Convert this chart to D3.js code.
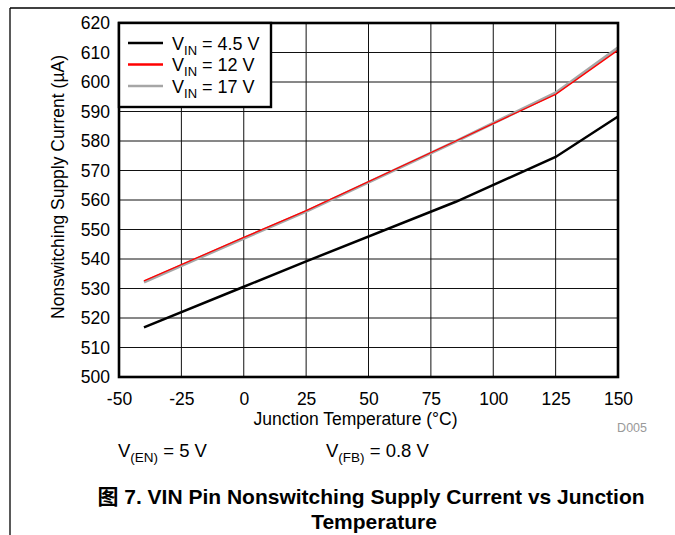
<!DOCTYPE html>
<html>
<head>
<meta charset="utf-8">
<script src="https://cdn.jsdelivr.net/npm/d3@7"></script>
<style>
  html, body { margin: 0; padding: 0; background: #fff; }
  svg { display: block; }
  text { font-family: "Liberation Sans", Arial, "Noto Sans CJK SC", sans-serif; }
</style>
</head>
<body>
<svg id="chart" width="675" height="535"></svg>
<script>
// ---- data ----
const temps = [-40, 0, 25, 85, 125, 150];
const vin45 = [516.8, 530.6, 539.2, 559.4, 574.6, 588.3];
const vin12 = [532.6, 547.3, 556.4, 580.0, 595.8, 610.8];
const vin17 = [532.2, 547.0, 556.1, 579.9, 596.3, 611.6];
const xTicks = [-50, -25, 0, 25, 50, 75, 100, 125, 150];
const yTicks = [500, 510, 520, 530, 540, 550, 560, 570, 580, 590, 600, 610, 620];
const seriesNames = ["4.5 V", "12 V", "17 V"];
const seriesColors = ["#000000", "#ff0000", "#a6a6a6"];

const svg = d3.select("#chart");
const L = 119, R = 618, T = 23, B = 377;
const x = d3.scaleLinear().domain([-50, 150]).range([L, R]);
const y = d3.scaleLinear().domain([500, 620]).range([B, T]);

// outer frame (top and left)
svg.append("line").attr("x1", 10).attr("x2", 675).attr("y1", 8).attr("y2", 8)
  .attr("stroke", "#000").attr("stroke-width", 1.3);
svg.append("line").attr("x1", 10).attr("x2", 10).attr("y1", 8).attr("y2", 535)
  .attr("stroke", "#000").attr("stroke-width", 1.3);

// grid
const grid = svg.append("g");
xTicks.forEach(t => grid.append("line").attr("x1", x(t)).attr("x2", x(t)).attr("y1", T).attr("y2", B)
  .attr("stroke", "#111").attr("stroke-width", 1));
yTicks.forEach(t => grid.append("line").attr("x1", L).attr("x2", R).attr("y1", y(t)).attr("y2", y(t))
  .attr("stroke", "#111").attr("stroke-width", 1));

// axes (labels only)
const xAxis = svg.append("g").attr("transform", `translate(0,${B})`)
  .call(d3.axisBottom(x).tickValues(xTicks).tickSize(0).tickPadding(16).tickFormat(d => String(d)));
xAxis.select(".domain").remove();
xAxis.selectAll("text").attr("font-size", 17.5).attr("fill", "#000")
  .attr("font-family", "Liberation Sans, Arial, sans-serif");

const yAxis = svg.append("g").attr("transform", `translate(${L},0)`)
  .call(d3.axisLeft(y).tickValues(yTicks).tickSize(0).tickPadding(9).tickFormat(d => String(d)));
yAxis.select(".domain").remove();
yAxis.selectAll("text").attr("font-size", 17.5).attr("fill", "#000")
  .attr("font-family", "Liberation Sans, Arial, sans-serif");

// lines
const line = d3.line().x(d => x(d[0])).y(d => y(d[1]));
const zip = arr => temps.map((t, i) => [t, arr[i]]);
svg.append("path").datum(zip(vin45)).attr("d", line).attr("fill", "none")
  .attr("stroke", seriesColors[0]).attr("stroke-width", 2.5);
svg.append("path").datum(zip(vin17)).attr("d", line).attr("fill", "none")
  .attr("stroke", seriesColors[2]).attr("stroke-width", 3);
svg.append("path").datum(zip(vin12)).attr("d", line).attr("fill", "none")
  .attr("stroke", seriesColors[1]).attr("stroke-width", 1.3);

// plot frame
svg.append("rect").attr("x", L).attr("y", T).attr("width", R - L).attr("height", B - T)
  .attr("fill", "none").attr("stroke", "#000").attr("stroke-width", 2.6);

// legend
const lg = svg.append("g");
lg.append("rect").attr("x", 119).attr("y", 23).attr("width", 152).attr("height", 84)
  .attr("fill", "#fff").attr("stroke", "#000").attr("stroke-width", 2.4);
seriesNames.forEach((n, i) => {
  const yy = 43 + i * 21.5;
  lg.append("line").attr("x1", 128).attr("x2", 163).attr("y1", yy).attr("y2", yy)
    .attr("stroke", seriesColors[i]).attr("stroke-width", 2.5);
  const t = lg.append("text").attr("x", 172).attr("y", yy + 6.5).attr("font-size", 18).attr("fill", "#000");
  t.append("tspan").text("V");
  t.append("tspan").attr("font-size", 13).attr("dy", 5).text("IN");
  t.append("tspan").attr("dy", -5).text(" = " + n);
});

// axis titles
svg.append("text").attr("x", (L + R) / 2 - 13).attr("y", 425).attr("text-anchor", "middle")
  .attr("font-size", 17.5).text("Junction Temperature (\u00B0C)");
svg.append("text").attr("transform", "translate(64,187) rotate(-90)").attr("text-anchor", "middle")
  .attr("font-size", 17.5).text("Nonswitching Supply Current (\u00B5A)");

svg.append("text").attr("x", 647).attr("y", 432).attr("text-anchor", "end")
  .attr("font-size", 12.5).attr("fill", "#999").text("D005");

// conditions
function cond(xp, sub, rest) {
  const t = svg.append("text").attr("x", xp).attr("y", 457).attr("font-size", 18.5).attr("fill", "#000");
  t.append("tspan").text("V");
  t.append("tspan").attr("font-size", 13.5).attr("dy", 5).text(sub);
  t.append("tspan").attr("dy", -5).text(rest);
}
cond(118, "(EN)", " = 5 V");
cond(326, "(FB)", " = 0.8 V");

// caption
svg.append("text").attr("x", 371).attr("y", 504).attr("text-anchor", "middle")
  .attr("font-size", 21).attr("font-weight", "bold")
  .attr("font-family", "Liberation Sans, Arial, Noto Sans CJK SC, sans-serif")
  .text("图 7. VIN Pin Nonswitching Supply Current vs Junction");
svg.append("text").attr("x", 374).attr("y", 529).attr("text-anchor", "middle")
  .attr("font-size", 21).attr("font-weight", "bold")
  .text("Temperature");
</script>
</body>
</html>
